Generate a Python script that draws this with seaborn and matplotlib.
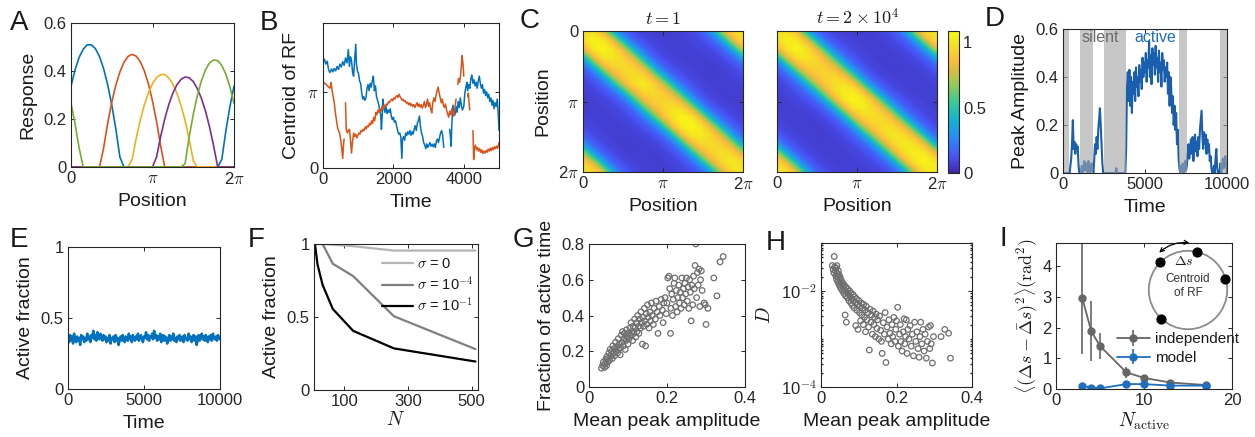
import numpy as np
import pandas as pd
import matplotlib
matplotlib.use('Agg')
from matplotlib import pyplot as plt
from matplotlib.colors import LinearSegmentedColormap
from matplotlib.patches import Circle, FancyArrowPatch
from matplotlib.ticker import LogLocator, NullFormatter
import seaborn as sns

PI = np.pi

# ---------------- data ----------------
# A: tuning curves, sampled every 0.05*pi from 0 to 2*pi
a_pos = np.linspace(0, 2 * PI, 41)
a_names = ['c1', 'c2', 'c3', 'c4', 'c5']
a_colors = ['#0072BD', '#D95319', '#EDB120', '#7E2F8E', '#77AC30']
a_blue = [0.337, 0.405, 0.457, 0.491, 0.509, 0.509, 0.493, 0.460, 0.410, 0.343,
          0.259, 0.159, 0.041] + [0] * 24 + [0.031, 0.150, 0.252, 0.337]
a_red = [0] * 8 + [0.079, 0.182, 0.269, 0.341, 0.396, 0.436, 0.461, 0.469, 0.462,
                   0.439, 0.400, 0.346, 0.275, 0.189, 0.088] + [0] * 18
a_yellow = [0] * 15 + [0.031, 0.120, 0.195, 0.259, 0.309, 0.347, 0.372, 0.385, 0.385,
                       0.371, 0.346, 0.307, 0.256, 0.193, 0.116, 0.027] + [0] * 10
a_purple = [0] * 21 + [0.042, 0.127, 0.200, 0.260, 0.308, 0.343, 0.365, 0.375, 0.372,
                       0.356, 0.327, 0.286, 0.233, 0.167, 0.088] + [0] * 5
a_green = [0.265, 0.180, 0.078] + [0] * 25 + [0.014, 0.125, 0.219, 0.297, 0.359, 0.405,
                                             0.434, 0.446, 0.443, 0.423, 0.387, 0.334, 0.265]

# B: centroid of RF over time (nan = gap)
nan = np.nan
b_blue_t = [0, 40, 80, 120, 160, 200, 240, 280, 320, 360,
            400, 440, 480, 520, 560, 600, 640, 680, 720, 750,
            780, 810, 840, 870, 900, 930, 950, 980, 1010, 1040,
            1070, 1100, 1130, 1160, 1190, 1220, 1250, 1280, 1310, 1340,
            1370, 1400, 1430, 1460, 1490, 1520, 1550, 1580, 1610, 1640,
            1660, 1680, 1700, 1730, 1760, 1790, 1820, 1850, 1880, 1910,
            1940, 1970, 2000, 2030, 2060, 2090, 2120, 2150, 2180, 2210,
            2240, 2260, 2290, 2320, 2350, 2380, 2410, 2440, 2470, 2500,
            2530, 2560, 2590, 2620, 2650, 2680, 2710, 2740, 2770, 2800,
            2830, 2860, 2890, 2920, 2950, 2980, 3010, 3040, 3070, 3100,
            3130, 3160, 3190, 3220, 3250, 3280, 3310, 3340, 3370, 3400,
            3430, 3460, 3600, 3620, 3640, 3660, 3690, 3720, 3750, 3780,
            3810, 3840, 3870, 3900, 3930, 3960, 4000, 4030, 4060, 4090,
            4110, 4140, 4170, 4200, 4230, 4260, 4290, 4320, 4350, 4380,
            4410, 4440, 4470, 4500, 4530, 4560, 4590, 4620, 4650, 4680,
            4710, 4740, 4770, 4800, 4830, 4860, 4890, 4920, 4950, 4980,
            5000]
b_blue = [4.36, 4.50, 4.30, 4.42, 4.05, 3.95, 4.10, 3.98, 4.12, 4.02,
          4.20, 4.08, 4.30, 4.18, 4.40, 4.25, 4.55, 4.35, 4.90, 4.20,
          4.60, 4.45, 3.95, 3.80, 4.50, 5.12, 4.30, 4.00, 3.90, 3.60,
          3.50, 3.10, 2.85, 2.95, 2.80, 2.90, 3.30, 3.45, 3.20, 3.50,
          3.35, 3.60, 3.80, 3.20, 3.40, 2.95, 2.80, 2.65, 2.40, 2.20,
          1.60, 2.10, 2.85, 2.50, 2.30, 2.55, 2.25, 2.40, 2.30, 2.45,
          2.15, 2.00, 2.10, 1.90, 1.95, 1.75, 1.55, 1.40, 1.45, 1.30,
          0.40, 1.20, 1.30, 1.15, 1.45, 1.35, 1.50, 1.40, 1.55, 1.35,
          1.50, 1.40, 1.60, 1.75, 1.55, 1.85, 1.95, 2.15, 1.70, 1.45,
          1.30, 1.05, 0.95, 0.80, 1.00, 0.85, 0.95, 1.05, 0.90, 0.98,
          0.88, 1.00, 0.85, 1.10, 1.20, 1.05, 1.25, 1.45, 1.55, 1.35,
          0.85, nan, 1.60, 1.30, 0.90, 1.80, 2.60, 2.40, 2.20, 2.55,
          2.30, 2.75, 2.50, 2.90, 2.60, 2.40, 2.55, 3.10, 3.35, 3.55,
          3.20, 3.45, 3.30, 3.70, 3.85, 3.50, 3.65, 3.40, 3.55, 3.30,
          3.60, 3.80, 3.50, 3.30, 3.45, 3.10, 3.25, 3.00, 3.15, 2.90,
          3.05, 2.75, 2.90, 2.60, 2.80, 2.45, 2.70, 2.55, 2.85, 2.20,
          1.55]
b_red_t = [0, 40, 80, 120, 160, 200, 230, 260, 290, 320,
           350, 380, 410, 440, 470, 500, 530, 560, 580, 600,
           620, 640, 650, 660, 690, 720, 750, 780, 810, 840,
           870, 900, 930, 960, 990, 1020, 1050, 1080, 1110, 1140,
           1170, 1200, 1230, 1260, 1290, 1320, 1350, 1380, 1410, 1440,
           1470, 1500, 1530, 1560, 1590, 1620, 1650, 1680, 1710, 1740,
           1770, 1800, 1830, 1860, 1890, 1920, 1950, 1980, 2010, 2040,
           2070, 2100, 2130, 2160, 2190, 2220, 2250, 2280, 2310, 2340,
           2370, 2400, 2430, 2460, 2490, 2520, 2550, 2580, 2610, 2640,
           2670, 2700, 2730, 2760, 2790, 2820, 2850, 2880, 2910, 2940,
           2970, 3000, 3030, 3060, 3090, 3120, 3150, 3180, 3210, 3240,
           3270, 3300, 3330, 3360, 3390, 3420, 3450, 3480, 3510, 3540,
           3570, 3600, 3630, 3660, 3690, 3720, 3750, 3780, 3800, 3830,
           3850, 3880, 3910, 3930, 3950, 3970, 3990, 4000, 4050, 4110,
           4130, 4150, 4170, 4200, 4260, 4280, 4300, 4330, 4360, 4390,
           4420, 4450, 4480, 4510, 4540, 4570, 4600, 4630, 4660, 4690,
           4720, 4750, 4780, 4810, 4840, 4870, 4900, 4930, 4960, 4990,
           5000]
b_red = [3.60, 3.50, 3.48, 3.40, 3.35, 3.30, 3.55, 3.20, 2.95, 2.70,
         2.30, 2.00, 1.70, 1.55, 1.45, 1.20, 0.85, 0.40, 0.90, 1.20,
         nan, 2.70, 2.20, 1.60, 1.45, 1.55, 1.60, 1.20, 0.62, 1.10,
         1.45, 1.30, 1.40, 1.25, 1.35, 1.45, 1.40, 1.55, 1.50, 1.60,
         1.55, 1.70, 1.62, 1.75, 1.70, 1.85, 1.78, 1.95, 1.85, 2.10,
         1.95, 2.30, 2.20, 2.40, 2.30, 2.45, 2.35, 2.55, 2.45, 2.60,
         2.55, 2.65, 2.60, 2.75, 2.70, 2.80, 2.85, 2.78, 2.90, 2.85,
         2.95, 3.00, 2.92, 3.05, 2.95, 2.88, 2.80, 2.85, 2.75, 2.78,
         2.68, 2.72, 2.62, 2.70, 2.58, 2.65, 2.55, 2.62, 2.50, 2.60,
         2.70, 2.55, 2.65, 2.52, 2.62, 2.48, 2.58, 2.75, 2.50, 2.62,
         2.85, 2.55, 2.70, 2.45, 2.28, 2.70, 2.90, 2.75, 3.00, 3.20,
         3.35, 3.10, 2.90, 2.70, 2.85, 2.60, 2.50, 2.65, 2.40, 2.25,
         2.10, 2.35, 2.20, 2.45, 2.30, 2.15, 2.50, 2.85, nan, 3.45,
         3.70, 3.55, 3.85, 4.20, 4.65, 4.40, 4.05, 3.80, nan, 2.95,
         3.10, 2.70, 2.40, nan, 1.55, 0.35, 0.80, 0.95, 0.75, 0.85,
         0.70, 0.80, 0.65, 0.75, 0.60, 0.70, 0.62, 0.72, 0.65, 0.78,
         0.70, 0.82, 0.72, 0.85, 0.75, 0.88, 0.80, 0.90, 0.82, 1.00,
         1.05]

# C: similarity vs offset (steps of 0.05*pi) and gain along the diagonal
c_profile = [1.0, 0.99, 0.97, 0.93, 0.87, 0.78, 0.64, 0.49, 0.36, 0.26,
             0.19, 0.15, 0.12, 0.10, 0.09, 0.08, 0.08, 0.07, 0.07, 0.07, 0.07]
c_gain1 = [0.98, 1.04, 1.05, 1.0, 0.96, 0.95, 0.97, 1.0, 0.96, 0.93,
           0.95, 1.0, 1.05, 1.06, 1.02, 0.97, 0.95, 0.97, 1.0, 0.99]
c_gain2 = [1.0, 1.03, 1.05, 1.0, 0.95, 0.93, 0.94, 0.98, 1.02, 1.05,
           1.03, 0.98, 0.96, 0.97, 0.99, 1.0, 1.01, 1.03, 1.05, 1.02]
c_titles = [r'$t = 1$', r'$t = 2\times10^4$']

# D: peak amplitude, one value every 50 time steps
d_step = 50
d_vals = ([0] * 8 +
          [0.0, 0.03, 0.06, 0.12, 0.22, 0.10, 0.13, 0.08, 0.12, 0.10, 0.11, 0.03, 0.0] +
          [0.0, 0.01, 0.03, 0.0, 0.02, 0.05, 0.01, 0.04, 0.02, 0.0, 0.05, 0.03, 0.0, 0.02, 0.04, 0.01] +
          [0.0, 0.05, 0.12, 0.08, 0.15, 0.10, 0.18, 0.22, 0.27, 0.20, 0.12, 0.04, 0.0] +
          [0] * 15 + [0.02] + [0] * 11 +
          [0.10, 0.35, 0.42, 0.30, 0.43, 0.28, 0.40, 0.25, 0.38, 0.33, 0.42, 0.30, 0.44, 0.36,
           0.40, 0.32, 0.45, 0.38, 0.43, 0.35, 0.48, 0.40, 0.46] +
          [0.42, 0.50, 0.38, 0.47, 0.44, 0.55, 0.40, 0.49, 0.37, 0.52, 0.45, 0.50, 0.41, 0.53,
           0.44, 0.48, 0.38, 0.51, 0.42, 0.46, 0.36, 0.50, 0.43, 0.47, 0.38, 0.44, 0.40] +
          [0.46, 0.33, 0.42, 0.28, 0.40, 0.35, 0.25, 0.32, 0.20, 0.28, 0.18, 0.25, 0.12, 0.18, 0.06, 0.02] +
          [0.0, 0.03, 0.01, 0.04, 0.0, 0.02, 0.05, 0.01, 0.03, 0.08] +
          [0.12, 0.06, 0.10, 0.14, 0.08, 0.15, 0.05, 0.11, 0.16, 0.09, 0.13, 0.07, 0.15, 0.10, 0.18, 0.22] +
          [0.26, 0.15, 0.10, 0.17, 0.12, 0.16, 0.08, 0.14, 0.09, 0.12, 0.05, 0.07] +
          [0.02, 0.0, 0.0, 0.03, 0.0, 0.06, 0.10, 0.02, 0.0, 0.0] +
          [0.01, 0.04, 0.0, 0.03, 0.06, 0.02, 0.05, 0.07, 0.03, 0.0])
d_silent = [(0, 370), (1020, 1800), (2490, 3815), (7100, 7590), (9550, 10000)]

# E: active fraction over time
e_vals = [0.36, 0.33, 0.38, 0.34, 0.37, 0.32, 0.39, 0.35, 0.33, 0.37, 0.34, 0.36, 0.31, 0.38, 0.35, 0.37,
          0.33, 0.36, 0.34, 0.39, 0.35, 0.37, 0.33, 0.38, 0.36, 0.41, 0.35, 0.38, 0.34, 0.40, 0.37, 0.35,
          0.39, 0.36, 0.34, 0.38, 0.35, 0.37, 0.33, 0.36, 0.34, 0.38, 0.32, 0.36, 0.35, 0.37, 0.33, 0.38,
          0.34, 0.36, 0.31, 0.35, 0.37, 0.34, 0.38, 0.35, 0.33, 0.37, 0.36, 0.34, 0.39, 0.35, 0.37, 0.33,
          0.38, 0.36, 0.34, 0.37, 0.35, 0.39, 0.34, 0.36, 0.38, 0.35, 0.33, 0.37, 0.36, 0.40, 0.35, 0.38,
          0.34, 0.37, 0.36, 0.39, 0.35, 0.41, 0.36, 0.38, 0.34, 0.37, 0.35, 0.39, 0.33, 0.36, 0.38, 0.34,
          0.37, 0.35, 0.32, 0.36, 0.38, 0.34, 0.37, 0.35, 0.39, 0.34, 0.36, 0.33, 0.37, 0.35, 0.38, 0.34,
          0.36, 0.37, 0.33, 0.38, 0.35, 0.36, 0.34, 0.39, 0.35, 0.37, 0.33, 0.36, 0.38, 0.34, 0.37, 0.31,
          0.35, 0.38, 0.34, 0.36, 0.39, 0.35, 0.37, 0.34, 0.38, 0.36, 0.33, 0.37, 0.35, 0.38, 0.34, 0.39,
          0.36, 0.35, 0.37, 0.34, 0.38, 0.36, 0.35]

# F: active fraction vs N
f_n = [8, 16, 32, 64, 128, 256, 512]
f_sig0 = [1.0, 1.0, 1.0, 0.995, 0.985, 0.955, 0.955]
f_sig4 = [1.0, 1.0, 1.0, 0.865, 0.78, 0.505, 0.28]
f_sig1 = [1.0, 0.86, 0.72, 0.555, 0.405, 0.285, 0.195]
f_labels = [r'$\sigma$ = 0', r'$\sigma$ = 10$^{-4}$', r'$\sigma$ = 10$^{-1}$']
f_colors = ['#b4b4b4', '#7f7f7f', '#000000']

# G: fraction of active time vs mean peak amplitude
g_amp = [0.032, 0.035, 0.037, 0.040, 0.041, 0.043, 0.045, 0.046, 0.048, 0.050,
         0.051, 0.053, 0.054, 0.056, 0.058, 0.060, 0.061, 0.063, 0.065, 0.066,
         0.068, 0.070, 0.071, 0.073, 0.075, 0.076, 0.078, 0.080, 0.081, 0.083,
         0.085, 0.086, 0.088, 0.090, 0.091, 0.093, 0.095, 0.096, 0.098, 0.100,
         0.101, 0.103, 0.105, 0.107, 0.108, 0.110, 0.112, 0.113, 0.115, 0.117,
         0.118, 0.120, 0.122, 0.123, 0.125, 0.127, 0.128, 0.130, 0.132, 0.133,
         0.135, 0.137, 0.138, 0.140, 0.142, 0.143, 0.145, 0.147, 0.148, 0.150,
         0.152, 0.154, 0.156, 0.158, 0.160, 0.162, 0.165, 0.167, 0.170, 0.172,
         0.175, 0.177, 0.180, 0.182, 0.185, 0.188, 0.190, 0.192, 0.195, 0.198,
         0.200, 0.202, 0.205, 0.207, 0.209, 0.210, 0.212, 0.214, 0.216, 0.218,
         0.220, 0.222, 0.224, 0.226, 0.228, 0.230, 0.232, 0.234, 0.236, 0.238,
         0.240, 0.242, 0.244, 0.246, 0.248, 0.250, 0.252, 0.254, 0.256, 0.258,
         0.260, 0.262, 0.264, 0.266, 0.268, 0.270, 0.272, 0.274, 0.276, 0.278,
         0.280, 0.282, 0.284, 0.286, 0.288, 0.290, 0.295, 0.298, 0.300, 0.305,
         0.320, 0.328, 0.336, 0.344]
g_frac = [0.105, 0.12, 0.14, 0.11, 0.13, 0.155, 0.12, 0.17, 0.14, 0.16,
          0.19, 0.15, 0.21, 0.175, 0.20, 0.16, 0.23, 0.19, 0.215, 0.175,
          0.25, 0.20, 0.225, 0.19, 0.27, 0.21, 0.24, 0.18, 0.22, 0.29,
          0.25, 0.31, 0.23, 0.27, 0.30, 0.21, 0.26, 0.32, 0.28, 0.24,
          0.30, 0.27, 0.33, 0.29, 0.36, 0.31, 0.26, 0.34, 0.30, 0.38,
          0.33, 0.28, 0.36, 0.31, 0.40, 0.34, 0.30, 0.38, 0.33, 0.42,
          0.36, 0.24, 0.39, 0.34, 0.44, 0.37, 0.23, 0.41, 0.35, 0.46,
          0.39, 0.33, 0.42, 0.37, 0.47, 0.40, 0.35, 0.44, 0.38, 0.48,
          0.42, 0.30, 0.45, 0.40, 0.49, 0.43, 0.36, 0.47, 0.50, 0.41,
          0.47, 0.61, 0.62, 0.55, 0.30, 0.44, 0.52, 0.40, 0.49, 0.58,
          0.61, 0.45, 0.54, 0.42, 0.50, 0.57, 0.47, 0.53, 0.44, 0.61,
          0.50, 0.55, 0.46, 0.58, 0.52, 0.61, 0.48, 0.56, 0.44, 0.60,
          0.53, 0.37, 0.57, 0.46, 0.62, 0.55, 0.68, 0.80, 0.50, 0.64,
          0.57, 0.66, 0.45, 0.60, 0.65, 0.54, 0.47, 0.46, 0.35, 0.44,
          0.61, 0.51, 0.70, 0.73]

# H: diffusion constant (log10) vs mean peak amplitude
h_amp = [0.030, 0.032, 0.034, 0.035, 0.036, 0.038, 0.039, 0.040, 0.041, 0.042,
         0.043, 0.044, 0.045, 0.046, 0.047, 0.048, 0.049, 0.050, 0.051, 0.052,
         0.053, 0.054, 0.055, 0.057, 0.058, 0.060, 0.061, 0.062, 0.063, 0.064,
         0.065, 0.066, 0.067, 0.068, 0.070, 0.071, 0.073, 0.074, 0.076, 0.077,
         0.079, 0.080, 0.082, 0.083, 0.085, 0.086, 0.088, 0.089, 0.091, 0.092,
         0.094, 0.095, 0.097, 0.098, 0.100, 0.102, 0.103, 0.105, 0.107, 0.108,
         0.110, 0.112, 0.113, 0.115, 0.117, 0.118, 0.120, 0.122, 0.124, 0.126,
         0.128, 0.130, 0.132, 0.134, 0.136, 0.138, 0.140, 0.142, 0.144, 0.146,
         0.148, 0.150, 0.153, 0.155, 0.158, 0.160, 0.162, 0.165, 0.168, 0.170,
         0.172, 0.175, 0.178, 0.180, 0.183, 0.186, 0.188, 0.190, 0.193, 0.196,
         0.198, 0.200, 0.203, 0.205, 0.208, 0.210, 0.212, 0.215, 0.218, 0.220,
         0.222, 0.224, 0.226, 0.228, 0.230, 0.233, 0.236, 0.239, 0.242, 0.245,
         0.248, 0.251, 0.254, 0.257, 0.260, 0.262, 0.264, 0.267, 0.270, 0.273,
         0.276, 0.279, 0.282, 0.285, 0.288, 0.290, 0.292, 0.295, 0.298, 0.318,
         0.328, 0.338, 0.343]
h_logd = [-1.47, -1.55, -1.62, -1.28, -1.50, -1.58, -1.68, -1.52, -1.75, -1.47,
          -1.63, -1.80, -1.70, -1.58, -1.85, -1.66, -1.76, -1.90, -1.72, -1.82,
          -1.95, -1.78, -1.88, -2.00, -1.84, -1.93, -2.05, -1.88, -1.98, -2.50,
          -2.10, -1.92, -2.65, -2.02, -2.14, -1.96, -2.06, -2.20, -2.00, -2.12,
          -2.25, -2.04, -2.16, -2.30, -2.08, -2.20, -2.35, -2.12, -2.24, -2.72,
          -2.16, -2.40, -2.28, -2.80, -2.20, -2.45, -2.32, -2.62, -2.25, -2.50,
          -2.36, -2.70, -2.28, -2.55, -2.40, -2.85, -2.32, -2.60, -2.45, -2.75,
          -3.23, -2.38, -2.65, -2.50, -2.90, -2.42, -2.70, -2.55, -2.95, -2.48,
          -2.78, -2.60, -3.00, -2.52, -2.82, -3.05, -3.30, -2.66, -2.90, -2.45,
          -3.49, -2.75, -3.00, -2.60, -2.88, -3.10, -2.70, -2.95, -2.55, -3.05,
          -2.80, -2.62, -2.34, -3.15, -2.90, -2.70, -3.05, -3.25, -2.85, -2.58,
          -3.10, -2.95, -2.60, -3.30, -2.80, -3.00, -2.72, -3.15, -2.90, -3.35,
          -2.65, -3.05, -2.85, -3.20, -3.38, -2.95, -2.65, -3.10, -2.80, -3.25,
          -2.90, -3.40, -3.05, -2.75, -3.20, -2.72, -3.10, -3.50, -2.95, -2.95,
          -2.80, -2.88, -3.40]

# I: variance of spacing vs number of active cells
i_n = [3, 4, 5, 8, 10, 13, 17]
i_indep = [2.95, 1.88, 1.40, 0.54, 0.36, 0.21, 0.13]
i_indep_err = [1.80, 0.98, 0.42, 0.17, 0.08, 0.03, 0.03]
i_model = [0.11, 0.04, 0.02, 0.16, 0.16, 0.11, 0.11]
i_model_err = [0.03, 0.02, 0.02, 0.04, 0.04, 0.03, 0.03]
i_dot_angles = [76, 135, 17, 227]

# ---------------- style ----------------
sns.set_theme(style='ticks')
plt.rcParams['font.family'] = ['Liberation Sans', 'DejaVu Sans']
plt.rcParams.update({
    'mathtext.fontset': 'cm',
    'xtick.direction': 'in', 'ytick.direction': 'in',
    'xtick.top': True, 'ytick.right': True,
    'xtick.major.size': 3, 'ytick.major.size': 3,
    'xtick.minor.size': 1.5, 'ytick.minor.size': 1.5,
    'xtick.major.width': 0.7, 'ytick.major.width': 0.7,
    'xtick.major.pad': 3, 'ytick.major.pad': 3,
    'axes.linewidth': 0.8, 'axes.edgecolor': '#262626',
    'xtick.color': '#262626', 'ytick.color': '#262626',
    'xtick.labelsize': 12, 'ytick.labelsize': 12,
    'axes.labelsize': 14, 'axes.labelpad': 5,
    'text.color': '#1a1a1a', 'axes.labelcolor': '#1a1a1a',
})

W, H = 1255, 437
fig = plt.figure(figsize=(W / 100, H / 100), dpi=100)


def px_axes(l, t, r, b):
    return fig.add_axes([l / W, 1 - b / H, (r - l) / W, (b - t) / H])


def letter(x, y, s):
    fig.text(x / W, 1 - y / H, s, fontsize=20, va='top', ha='left')


pi_ticks = [0, PI, 2 * PI]
pi_labels = ['0', r'$\pi$', r'2$\pi$']

# ---- A
ax = px_axes(71, 23, 234, 167)
a_df = pd.DataFrame({'pos': np.tile(a_pos, 5),
                     'resp': np.concatenate([a_blue, a_red, a_yellow, a_purple, a_green]),
                     'cell': np.repeat(a_names, len(a_pos))})
sns.lineplot(data=a_df, x='pos', y='resp', hue='cell', hue_order=a_names, palette=a_colors,
             linewidth=1.2, legend=False, estimator=None, sort=False, ax=ax)
ax.set_xlim(0, 2 * PI)
ax.set_ylim(0, 0.6)
ax.set_xticks(pi_ticks, pi_labels)
ax.set_yticks([0, 0.2, 0.4, 0.6], ['0', '0.2', '0.4', '0.6'])
ax.set_xlabel('Position')
ax.set_ylabel('Response')
letter(10, 10, 'A')

# ---- B
ax = px_axes(323, 23, 499, 168)
ax.plot(b_blue_t, b_blue, color='#0072BD', lw=1.1)
ax.plot(b_red_t, b_red, color='#D95319', lw=1.1)
ax.set_xlim(0, 5000)
ax.set_ylim(0, 6)
ax.set_xticks([0, 2000, 4000], ['0', '2000', '4000'])
ax.set_yticks([0, PI], ['0', r'$\pi$'])
ax.set_xlabel('Time')
ax.set_ylabel('Centroid of RF')
letter(260, 10, 'B')

# ---- C
parula = LinearSegmentedColormap.from_list('parula', [
    (0.0, (0.2422, 0.1504, 0.6603)), (0.111, (0.2810, 0.3228, 0.9579)),
    (0.238, (0.1786, 0.5289, 0.9682)), (0.365, (0.0689, 0.6948, 0.8394)),
    (0.492, (0.2161, 0.7843, 0.5923)), (0.619, (0.5709, 0.7997, 0.3440)),
    (0.72, (0.85, 0.74, 0.25)), (0.80, (0.99, 0.75, 0.24)),
    (0.90, (0.96, 0.88, 0.14)), (1.0, (0.9769, 0.9839, 0.0805))])
n = 2 * len(c_gain1)
idx = np.arange(n)
dist = np.abs(idx[:, None] - idx[None, :])
dist = np.minimum(dist, n - dist)
prof = np.array(c_profile)
for k, (left, gain) in enumerate([(583, c_gain1), (777, c_gain2)]):
    ax = px_axes(left, 31, left + 160, 172)
    g = np.repeat(gain, 2)
    mat = prof[dist] * np.sqrt(np.outer(g, g))
    im = ax.imshow(mat, cmap=parula, vmin=0, vmax=1.084, extent=(0, 2 * PI, 2 * PI, 0),
                   aspect='auto', interpolation='bilinear')
    ax.set_xticks(pi_ticks, pi_labels)
    ax.set_yticks(pi_ticks, pi_labels if k == 0 else ['', '', ''])
    ax.set_xlabel('Position')
    if k == 0:
        ax.set_ylabel('Position')
    ax.set_title(c_titles[k], fontsize=13, pad=5)
cax = px_axes(948, 31, 959, 173)
cb = fig.colorbar(im, cax=cax, ticks=[0, 0.5, 1])
cb.ax.set_yticklabels(['0', '0.5', '1'])
cb.outline.set_linewidth(0.8)
cax.tick_params(direction='in', left=False, right=True, length=3, labelsize=12)
letter(520, 8, 'C')

# ---- D
ax = px_axes(1063, 29, 1227, 173)
d_t = np.arange(len(d_vals)) * d_step
sns.lineplot(x=d_t, y=d_vals, color='#1a5fae', linewidth=1.5, estimator=None, ax=ax)
for s0, s1 in d_silent:
    ax.axvspan(s0, s1, color='#a6a6a6', alpha=0.62, lw=0, zorder=2.2)
ax.text(2250, 0.565, 'silent', color='#6b6b6b', fontsize=11.5, ha='center', va='center', zorder=5)
ax.text(5600, 0.565, 'active', color='#1f6fbf', fontsize=11.5, ha='center', va='center', zorder=5)
ax.set_xlim(0, 10000)
ax.set_ylim(0, 0.6)
ax.set_xticks([0, 5000, 10000], ['0', '5000', '10000'])
ax.set_yticks([0, 0.2, 0.4, 0.6], ['0', '0.2', '0.4', '0.6'])
ax.set_xlabel('Time')
ax.set_ylabel('Peak Amplitude')
letter(985, 6, 'D')

# ---- E
ax = px_axes(68, 247, 220, 389)
e_t = np.linspace(0, 10000, len(e_vals))
sns.lineplot(x=e_t, y=e_vals, color='#0072BD', linewidth=1.8, estimator=None, ax=ax)
ax.set_xlim(0, 10000)
ax.set_ylim(0, 1)
ax.set_xticks([0, 5000, 10000], ['0', '5000', '10000'])
ax.set_yticks([0, 0.5, 1], ['0', '0.5', '1'])
ax.set_xlabel('Time')
ax.set_ylabel('Active fraction')
letter(10, 227, 'E')

# ---- F
ax = px_axes(314, 244, 478, 390)
for vals, lab, col in zip([f_sig0, f_sig4, f_sig1], f_labels, f_colors):
    sns.lineplot(x=f_n, y=vals, color=col, linewidth=1.6, label=lab, estimator=None, ax=ax)
ax.set_xlim(5, 520)
ax.set_ylim(0, 1)
ax.set_xticks([100, 300, 500], ['100', '300', '500'])
ax.set_yticks([0, 0.5, 1], ['0', '0.5', '1'])
ax.set_xlabel(r'$N$', labelpad=1)
ax.set_ylabel('Active fraction')
ax.legend(loc='upper left', bbox_to_anchor=(0.38, 0.95), frameon=False, fontsize=10.5,
          handlelength=2.1, handletextpad=0.3, labelspacing=0.25, borderaxespad=0)
letter(248, 227, 'F')

# ---- G
ax = px_axes(589, 244, 745, 387)
sns.scatterplot(x=g_amp, y=g_frac, marker='o', s=16, facecolor='none', edgecolor='#6e6e6e',
                linewidth=0.9, ax=ax)
ax.set_xlim(0, 0.4)
ax.set_ylim(0, 0.8)
ax.set_xticks([0, 0.2, 0.4], ['0', '0.2', '0.4'])
ax.set_yticks([0, 0.2, 0.4, 0.6, 0.8], ['0', '0.2', '0.4', '0.6', '0.8'])
ax.set_xlabel('Mean peak amplitude')
ax.set_ylabel('Fraction of active time')
letter(513, 227, 'G')

# ---- H
ax = px_axes(821, 243, 972, 387)
sns.scatterplot(x=h_amp, y=10.0 ** np.array(h_logd), marker='o', s=16, facecolor='none',
                edgecolor='#6e6e6e', linewidth=0.9, ax=ax)
ax.set_yscale('log')
ax.set_xlim(0, 0.4)
ax.set_ylim(1e-4, 1e-1)
ax.set_xticks([0, 0.2, 0.4], ['0', '0.2', '0.4'])
ax.set_yticks([1e-4, 1e-2], [r'10$^{-4}$', r'10$^{-2}$'])
ax.yaxis.set_minor_locator(LogLocator(base=10, subs=np.arange(1, 10), numticks=20))
ax.yaxis.set_minor_formatter(NullFormatter())
ax.tick_params(axis='y', which='minor', direction='in', right=True)
ax.set_xlabel('Mean peak amplitude')
ax.set_ylabel(r'$D$')
letter(766, 230, 'H')

# ---- I
ax = px_axes(1056, 243, 1232, 389)
ax.errorbar(i_n, i_indep, yerr=i_indep_err, color='#666666', marker='.', ms=10, lw=1.3,
            elinewidth=1.2, capsize=0, label='independent')
ax.errorbar(i_n, i_model, yerr=i_model_err, color='#1f6fbf', marker='.', ms=10, lw=1.3,
            elinewidth=1.2, capsize=0, label='model')
ax.set_xlim(0, 20)
ax.set_ylim(0, 4.75)
ax.set_xticks([0, 10, 20], ['0', '10', '20'])
ax.set_yticks([0, 1, 2, 3, 4], ['0', '1', '2', '3', '4'])
ax.set_xlabel(r'$N_{\mathrm{active}}$', labelpad=2)
ax.set_ylabel(r'$\langle(\Delta s-\bar{\Delta}s)^2\rangle(\mathrm{rad}^2)$', fontsize=13, labelpad=2)
ax.legend(loc='upper left', bbox_to_anchor=(0.31, 0.43), frameon=False, fontsize=11,
          handlelength=2.2, handletextpad=0.3, labelspacing=0.3, borderaxespad=0)
letter(999, 226, 'I')

ins = px_axes(1139, 241, 1237, 339)
ins.set_xlim(-1.25, 1.25)
ins.set_ylim(-1.25, 1.25)
ins.axis('off')
ins.add_patch(Circle((0, 0), 1, fill=False, ec='#8c8c8c', lw=1.3))
ang = np.deg2rad(i_dot_angles)
ins.scatter(np.cos(ang), np.sin(ang), s=40, color='black', zorder=3, clip_on=False)
a0, a1 = np.deg2rad(131), np.deg2rad(85)
ins.add_patch(FancyArrowPatch((1.2 * np.cos(a0), 1.2 * np.sin(a0)), (1.2 * np.cos(a1), 1.2 * np.sin(a1)),
                              arrowstyle='<->', connectionstyle='arc3,rad=-0.25', mutation_scale=7,
                              lw=0.9, color='black', clip_on=False))
ins.text(-0.12, 0.74, r'$\Delta s$', ha='center', va='center', fontsize=10)
ins.text(0, 0.1, 'Centroid\nof RF', ha='center', va='center', fontsize=8.5, linespacing=1.3,
         color='#333333')

fig.savefig('out.png', dpi=100)
